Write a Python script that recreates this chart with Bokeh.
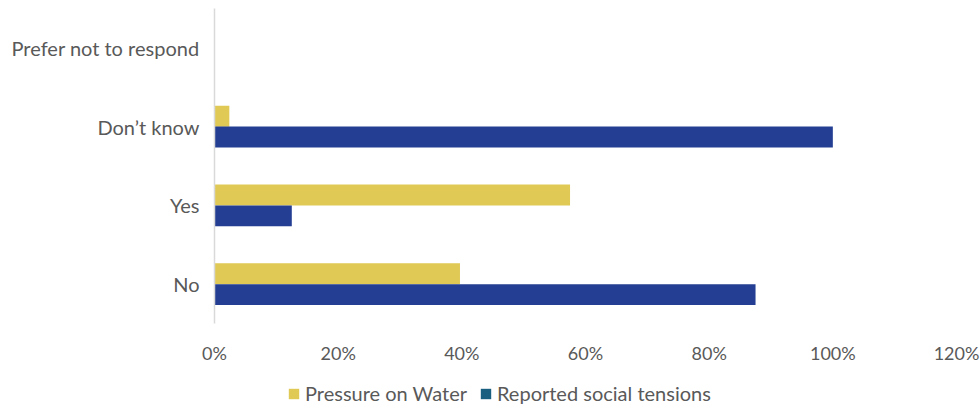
from bokeh.plotting import figure
from bokeh.layouts import column
from bokeh.models import FactorRange, Range1d, Legend, LegendItem, ColumnDataSource, NumeralTickFormatter, FixedTicker
from bokeh.transform import dodge
from bokeh.embed import file_html
from bokeh.resources import INLINE

categories = ["No", "Yes", "Don\u2019t know", "Prefer not to respond"]
pressure_on_water = [0.397, 0.575, 0.024, 0.0]
social_tensions = [0.875, 0.125, 1.0, 0.0]
x_ticks = [0, 0.2, 0.4, 0.6, 0.8, 1.0, 1.2]
series_names = ["Pressure on Water", "Reported social tensions"]

YELLOW = "#E0C955"
BLUE = "#233E92"
LEGEND_BLUE = "#1A5F80"
TEXT = "#595959"
FONT = "Lato"

src = ColumnDataSource(dict(cat=categories, pw=pressure_on_water, st=social_tensions))

p = figure(frame_width=742, frame_height=315,
           y_range=FactorRange(factors=categories), x_range=Range1d(0, 1.2),
           output_backend="svg", toolbar_location=None,
           min_border_left=214, min_border_right=24, min_border_top=8, min_border_bottom=47)

p.hbar(y=dodge("cat", 0.133, range=p.y_range), right="pw", left=0, height=0.266,
       source=src, fill_color=YELLOW, line_color=None)
p.hbar(y=dodge("cat", -0.133, range=p.y_range), right="st", left=0, height=0.266,
       source=src, fill_color=BLUE, line_color=None)

p.xgrid.grid_line_color = None
p.ygrid.grid_line_color = None
p.outline_line_color = None
p.background_fill_color = "white"
p.border_fill_color = "white"

p.xaxis.ticker = FixedTicker(ticks=x_ticks)
p.xaxis.formatter = NumeralTickFormatter(format="0%")
p.xaxis.axis_line_color = None
p.xaxis.major_tick_line_color = None
p.xaxis.minor_tick_line_color = None
p.xaxis.major_label_text_font = FONT
p.xaxis.major_label_text_font_size = "18px"
p.xaxis.major_label_text_color = TEXT
p.xaxis.major_label_standoff = 12

p.yaxis.axis_line_color = "#D9D9D9"
p.yaxis.axis_line_width = 1.5
p.yaxis.major_tick_line_color = None
p.yaxis.minor_tick_line_color = None
p.yaxis.major_label_text_font = FONT
p.yaxis.major_label_text_font_size = "20px"
p.yaxis.major_label_text_color = TEXT
p.yaxis.major_label_standoff = 9

# legend strip below the chart
lg = figure(width=980, height=36, x_range=Range1d(0, 1), y_range=Range1d(0, 1),
            output_backend="svg", toolbar_location=None, x_axis_type=None, y_axis_type=None,
            min_border_left=0, min_border_right=0, min_border_top=0, min_border_bottom=0)
lg.xgrid.grid_line_color = None
lg.ygrid.grid_line_color = None
lg.outline_line_color = None
proxy = ColumnDataSource(dict(x=[0.0], y=[0.0], w=[0.0]))
l1 = lg.rect(x="x", y="y", width="w", height="w", source=proxy, fill_color=YELLOW, line_color=None)
l2 = lg.rect(x="x", y="y", width="w", height="w", source=proxy, fill_color=LEGEND_BLUE, line_color=None)

legend = Legend(items=[LegendItem(label=series_names[0], renderers=[l1]),
                       LegendItem(label=series_names[1], renderers=[l2])],
                orientation="horizontal", location=(73, 1),
                glyph_width=13, glyph_height=13, label_standoff=5, spacing=12,
                label_text_font=FONT, label_text_font_size="20px", label_text_color=TEXT,
                border_line_color=None, background_fill_alpha=0, padding=0, margin=0)
lg.add_layout(legend, "center")

layout = column(p, lg, spacing=0)
open("out.html", "w").write(file_html(layout, INLINE))
